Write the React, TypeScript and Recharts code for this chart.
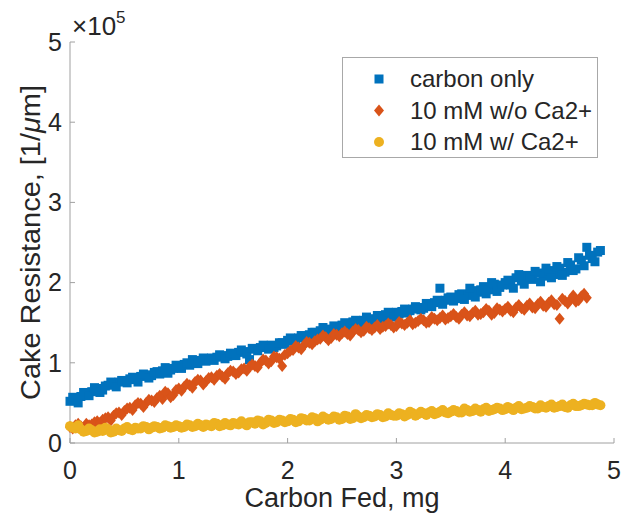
import React from 'react';
import { ScatterChart, Scatter, XAxis, YAxis } from 'recharts';

// carbon fed, mg (two interleaved sampling passes)
const carbonFed = [
  0, 0.05, 0.1, 0.15, 0.2, 0.25, 0.3, 0.35, 0.4, 0.45,
  0.5, 0.55, 0.6, 0.65, 0.7, 0.75, 0.8, 0.85, 0.9, 0.95,
  1, 1.05, 1.1, 1.15, 1.2, 1.25, 1.3, 1.35, 1.4, 1.45,
  1.5, 1.55, 1.6, 1.65, 1.7, 1.75, 1.8, 1.85, 1.9, 1.95,
  2, 2.05, 2.1, 2.15, 2.2, 2.25, 2.3, 2.35, 2.4, 2.45,
  2.5, 2.55, 2.6, 2.65, 2.7, 2.75, 2.8, 2.85, 2.9, 2.95,
  3, 3.05, 3.1, 3.15, 3.2, 3.25, 3.3, 3.35, 3.4, 3.45,
  3.5, 3.55, 3.6, 3.65, 3.7, 3.75, 3.8, 3.85, 3.9, 3.95,
  4, 4.05, 4.1, 4.15, 4.2, 4.25, 4.3, 4.35, 4.4, 4.45,
  4.5, 4.55, 4.6, 4.65, 4.7, 4.75, 4.8, 4.85,
];
const carbonFedMid = [
  0.025, 0.075, 0.125, 0.175, 0.225, 0.275, 0.325, 0.375, 0.425, 0.475,
  0.525, 0.575, 0.625, 0.675, 0.725, 0.775, 0.825, 0.875, 0.925, 0.975,
  1.025, 1.075, 1.125, 1.175, 1.225, 1.275, 1.325, 1.375, 1.425, 1.475,
  1.525, 1.575, 1.625, 1.675, 1.725, 1.775, 1.825, 1.875, 1.925, 1.975,
  2.025, 2.075, 2.125, 2.175, 2.225, 2.275, 2.325, 2.375, 2.425, 2.475,
  2.525, 2.575, 2.625, 2.675, 2.725, 2.775, 2.825, 2.875, 2.925, 2.975,
  3.025, 3.075, 3.125, 3.175, 3.225, 3.275, 3.325, 3.375, 3.425, 3.475,
  3.525, 3.575, 3.625, 3.675, 3.725, 3.775, 3.825, 3.875, 3.925, 3.975,
  4.025, 4.075, 4.125, 4.175, 4.225, 4.275, 4.325, 4.375, 4.425, 4.475,
  4.525, 4.575, 4.625, 4.675, 4.725, 4.775, 4.825, 4.875,
];

// cake resistance, x10^5 1/um
const carbonOnly = [
  0.52, 0.55, 0.58, 0.62, 0.64, 0.68, 0.66, 0.72, 0.73, 0.76,
  0.77, 0.8, 0.79, 0.83, 0.85, 0.84, 0.89, 0.9, 0.87, 0.93,
  0.96, 0.98, 0.97, 1.01, 1.03, 1.02, 1.06, 1.07, 1.09, 1.08,
  1.11, 1.13, 1.14, 1.04, 1.17, 1.19, 1.2, 1.22, 1.21, 1.25,
  1.28, 1.27, 1.31, 1.33, 1.35, 1.38, 1.4, 1.42, 1.41, 1.45,
  1.47, 1.48, 1.51, 1.5, 1.53, 1.55, 1.54, 1.58, 1.6, 1.59,
  1.63, 1.64, 1.62, 1.67, 1.69, 1.68, 1.72, 1.75, 1.93, 1.78,
  1.82, 1.8, 1.86, 1.84, 1.9, 1.88, 1.95, 1.91, 1.98, 1.94,
  2.0, 1.97, 2.06, 2.02, 2.09, 2.04, 2.12, 2.08, 2.15, 2.1,
  2.18, 2.13, 2.22, 2.17, 2.28, 2.44, 2.3, 2.38,
];
const carbonOnlyMid = [
  0.57, 0.5, 0.63, 0.59, 0.69, 0.63, 0.71, 0.76, 0.7, 0.78,
  0.75, 0.82, 0.76, 0.86, 0.81, 0.88, 0.86, 0.94, 0.91, 0.97,
  0.93, 1.0, 1.04, 0.99, 1.06, 1.05, 1.03, 1.1, 1.05, 1.12,
  1.09, 1.16, 1.11, 1.18, 1.15, 1.22, 1.17, 1.19, 1.25, 1.23,
  1.31, 1.29, 1.34, 1.3, 1.38, 1.36, 1.44, 1.38, 1.46, 1.43,
  1.5, 1.46, 1.53, 1.49, 1.57, 1.52, 1.59, 1.55, 1.63, 1.57,
  1.61, 1.67, 1.65, 1.7, 1.66, 1.74, 1.7, 1.78, 1.73, 1.81,
  1.77, 1.85, 1.79, 1.93, 1.82, 1.91, 1.86, 2.0, 1.89, 1.97,
  2.03, 1.93, 2.1, 1.98, 2.07, 2.14, 2.01, 2.18, 2.06, 2.2,
  2.09, 2.25, 2.15, 2.31, 2.21, 2.34, 2.26, 2.4,
];

const withoutCa = [
  0.2, 0.22, 0.21, 0.24, 0.23, 0.27, 0.29, 0.32, 0.34, 0.38,
  0.4, 0.44, 0.47, 0.49, 0.5, 0.53, 0.56, 0.55, 0.62, 0.6,
  0.68, 0.7, 0.72, 0.76, 0.78, 0.77, 0.82, 0.84, 0.83, 0.87,
  0.89, 0.88, 0.93, 0.95, 0.96, 1.0, 1.03, 1.02, 1.07, 0.96,
  1.12, 1.16, 1.19, 1.22, 1.25, 1.27, 1.3, 1.32, 1.31, 1.35,
  1.37, 1.36, 1.39, 1.41, 1.4, 1.43, 1.44, 1.42, 1.46, 1.47,
  1.46, 1.49, 1.5, 1.48, 1.52, 1.53, 1.51, 1.55, 1.56, 1.54,
  1.58, 1.57, 1.6, 1.59, 1.62, 1.6, 1.63, 1.65, 1.62, 1.66,
  1.67, 1.65, 1.69, 1.68, 1.71, 1.69, 1.73, 1.71, 1.75, 1.73,
  1.55, 1.77, 1.79, 1.76, 1.83, 1.81,
];
const withoutCaMid = [
  0.18, 0.24, 0.19, 0.22, 0.26, 0.25, 0.31, 0.28, 0.37, 0.35,
  0.43, 0.41, 0.5, 0.45, 0.54, 0.51, 0.59, 0.64, 0.57, 0.66,
  0.65, 0.74, 0.69, 0.79, 0.73, 0.81, 0.79, 0.86, 0.8, 0.9,
  0.86, 0.92, 0.9, 0.98, 0.94, 1.04, 0.99, 1.08, 1.05, 1.1,
  1.15, 1.21, 1.17, 1.26, 1.23, 1.29, 1.34, 1.28, 1.36, 1.33,
  1.39, 1.34, 1.42, 1.38, 1.45, 1.41, 1.47, 1.45, 1.49, 1.44,
  1.51, 1.47, 1.53, 1.5, 1.55, 1.5, 1.57, 1.53, 1.59, 1.56,
  1.61, 1.55, 1.63, 1.58, 1.65, 1.61, 1.67, 1.6, 1.68, 1.64,
  1.7, 1.63, 1.72, 1.66, 1.74, 1.68, 1.76, 1.7, 1.78, 1.72,
  1.8, 1.74, 1.84, 1.78, 1.86,
];

const withCa = [
  0.21, 0.18, 0.17, 0.15, 0.16, 0.14, 0.15, 0.17, 0.14, 0.16,
  0.18, 0.17, 0.19, 0.18, 0.2, 0.19, 0.2, 0.19, 0.21, 0.2,
  0.21, 0.2, 0.22, 0.21, 0.22, 0.23, 0.21, 0.24, 0.22, 0.23,
  0.25, 0.23, 0.24, 0.26, 0.24, 0.27, 0.25, 0.28, 0.26, 0.28,
  0.27, 0.29, 0.27, 0.3, 0.28, 0.31, 0.29, 0.31, 0.3, 0.32,
  0.3, 0.33, 0.31, 0.33, 0.32, 0.34, 0.33, 0.35, 0.33, 0.35,
  0.34, 0.36, 0.35, 0.37, 0.36, 0.37, 0.38, 0.36, 0.39, 0.38,
  0.39, 0.4, 0.38, 0.41, 0.4, 0.41, 0.42, 0.4, 0.42, 0.43,
  0.42, 0.43, 0.44, 0.42, 0.44, 0.45, 0.43, 0.45, 0.46, 0.44,
  0.46, 0.45, 0.47, 0.46, 0.47, 0.48, 0.47, 0.48,
];
const withCaMid = [
  0.19, 0.22, 0.14, 0.18, 0.13, 0.17, 0.19, 0.13, 0.18, 0.15,
  0.2, 0.16, 0.18, 0.21, 0.17, 0.21, 0.18, 0.22, 0.19, 0.22,
  0.19, 0.23, 0.2, 0.24, 0.2, 0.22, 0.25, 0.21, 0.25, 0.22,
  0.24, 0.27, 0.22, 0.26, 0.28, 0.23, 0.29, 0.25, 0.29, 0.26,
  0.3, 0.26, 0.31, 0.28, 0.32, 0.27, 0.33, 0.29, 0.33, 0.29,
  0.34, 0.3, 0.36, 0.31, 0.35, 0.32, 0.36, 0.32, 0.37, 0.34,
  0.37, 0.33, 0.39, 0.34, 0.39, 0.35, 0.4, 0.37, 0.41, 0.37,
  0.41, 0.38, 0.43, 0.39, 0.43, 0.39, 0.44, 0.41, 0.44, 0.41,
  0.45, 0.41, 0.46, 0.43, 0.46, 0.43, 0.47, 0.44, 0.48, 0.45,
  0.48, 0.44, 0.49, 0.46, 0.49, 0.47, 0.5, 0.47,
];

const xTicks = [0, 1, 2, 3, 4, 5];
const yTicks = [0, 1, 2, 3, 4, 5];

const seriesNames = ['carbon only', '10 mM w/o Ca2+', '10 mM w/ Ca2+'];
const colors = ['#0072BD', '#D95319', '#EDB120'];

const FONT = '"Liberation Sans", Arial, Helvetica, sans-serif';
const TEXT = '#262626';
const AXIS = '#a0a0a0';

const toPoints = (ys: number[], ysMid: number[]) => [
  ...ys.map((y, i) => ({ x: carbonFed[i], y })),
  ...ysMid.map((y, i) => ({ x: carbonFedMid[i], y })),
];

const Square = ({ cx, cy, fill }: any) =>
  <rect x={cx - 4.5} y={cy - 4.5} width={9} height={9} fill={fill} />;

const Diamond = ({ cx, cy, fill }: any) =>
  <polygon points={`${cx},${cy - 6} ${cx + 5},${cy} ${cx},${cy + 6} ${cx - 5},${cy}`} fill={fill} />;

const Dot = ({ cx, cy, fill }: any) =>
  <circle cx={cx} cy={cy} r={5} fill={fill} />;

const shapes = [Square, Diamond, Dot];

const YTitle = ({ viewBox }: any) => {
  const cy = viewBox.y + viewBox.height / 2;
  return (
    <g fontFamily={FONT} fill={TEXT}>
      <text x={40} y={cy} fontSize={27} textAnchor="middle" transform={`rotate(-90 40 ${cy})`}
        textLength={315} lengthAdjust="spacingAndGlyphs">
        Cake Resistance, [1/<tspan fontStyle="italic">μ</tspan>m]
      </text>
      <text x={72} y={35} fontSize={26}>
        ×10<tspan dy={-12} fontSize={17}>5</tspan>
      </text>
    </g>
  );
};

const XTitle = ({ viewBox }: any) =>
  <text x={viewBox.x + viewBox.width / 2} y={507} fontSize={27} fontFamily={FONT} fill={TEXT} textAnchor="middle">
    Carbon Fed, mg
  </text>;

const LegendBox = () =>
  <svg width={256} height={101} style={{ position: 'absolute', left: 342, top: 57 }}>
    <rect x={0.5} y={0.5} width={255} height={100} fill="#fff" stroke="#a8a8a8" />
    {seriesNames.map((name, i) => {
      const Shape = shapes[i];
      const y = 30 + i * 31.5;
      return (
        <g key={name}>
          <Shape cx={37} cy={y - 8} fill={colors[i]} />
          <text x={68} y={y} fontSize={24} fontFamily={FONT} fill={TEXT}>{name}</text>
        </g>
      );
    })}
  </svg>;

export default function App() {
  const series = [
    toPoints(carbonOnly, carbonOnlyMid),
    toPoints(withoutCa, withoutCaMid),
    toPoints(withCa, withCaMid),
  ];
  return (
    <div style={{ position: 'absolute', left: 0, top: 0, width: 623, height: 529, background: '#fff' }}>
      <ScatterChart width={623} height={529} margin={{ top: 42, right: 9, bottom: 36, left: 10 }}>
        <XAxis type="number" dataKey="x" domain={[0, 5]} ticks={xTicks} interval={0} height={50}
          tickSize={-5} tickMargin={23} axisLine={{ stroke: AXIS }} tickLine={{ stroke: AXIS }}
          tick={{ fontSize: 25, fill: TEXT, fontFamily: FONT }} label={<XTitle />} />
        <YAxis type="number" dataKey="y" domain={[0, 5]} ticks={yTicks} interval={0} width={60}
          tickSize={-5} tickMargin={13} axisLine={{ stroke: AXIS }} tickLine={{ stroke: AXIS }}
          tick={{ fontSize: 25, fill: TEXT, fontFamily: FONT }} label={<YTitle />} />
        {series.map((points, i) => {
          const Shape = shapes[i];
          return (
            <Scatter key={seriesNames[i]} name={seriesNames[i]} data={points} fill={colors[i]}
              isAnimationActive={false} shape={(p: any) => <Shape cx={p.cx} cy={p.cy} fill={colors[i]} />} />
          );
        })}
      </ScatterChart>
      <LegendBox />
    </div>
  );
}
